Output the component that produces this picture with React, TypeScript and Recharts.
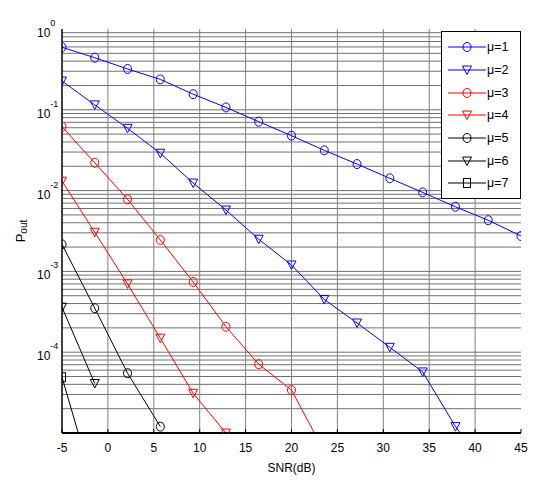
import React from "react";
import { LineChart, Line, XAxis, YAxis, ReferenceLine, Legend, Label } from "recharts";

const snr = [-5, -1.43, 2.14, 5.71, 9.29, 12.86, 16.43, 20, 23.57, 27.14, 30.71, 34.29, 37.86, 41.43, 45];

// outage probability per mu (null = no point)
const mu1 = [0.594, 0.441, 0.32, 0.238, 0.156, 0.107, 0.0713, 0.0478, 0.0315, 0.0213, 0.0142, 0.0095, 0.0063, 0.0043, 0.00274];
const mu2 = [0.227, 0.115, 0.059, 0.029, 0.0124, 0.00575, 0.0025, 0.0012, 4.5e-4, 2.3e-4, 1.15e-4, 5.7e-5, 1.2e-5, 3.5e-6, null];
const mu3 = [0.0618, 0.0221, 0.0078, 0.00245, 7.4e-4, 2.07e-4, 7.1e-5, 3.4e-5, 5.9e-6, null, null, null, null, null, null];
const mu4 = [0.0131, 0.00305, 7.0e-4, 1.49e-4, 3.1e-5, 1.0e-5, null, null, null, null, null, null, null, null, null];
const mu5 = [0.00216, 3.5e-4, 5.5e-5, 1.2e-5, null, null, null, null, null, null, null, null, null, null, null];
const mu6 = [3.6e-4, 4.1e-5, null, null, null, null, null, null, null, null, null, null, null, null, null];
const mu7 = [4.9e-5, 2e-6, null, null, null, null, null, null, null, null, null, null, null, null, null];

const xTicks = [-5, 0, 5, 10, 15, 20, 25, 30, 35, 40, 45];
const yTicks = [1, 0.1, 0.01, 0.001, 0.0001];
const Y_MIN = 1e-5;

const series = [
  { key: "mu1", name: "\u03bc=1", color: "#0000ff", shape: "o", values: mu1 },
  { key: "mu2", name: "\u03bc=2", color: "#0000ff", shape: "v", values: mu2 },
  { key: "mu3", name: "\u03bc=3", color: "#ff0000", shape: "o", values: mu3 },
  { key: "mu4", name: "\u03bc=4", color: "#ff0000", shape: "v", values: mu4 },
  { key: "mu5", name: "\u03bc=5", color: "#000000", shape: "o", values: mu5 },
  { key: "mu6", name: "\u03bc=6", color: "#000000", shape: "v", values: mu6 },
  { key: "mu7", name: "\u03bc=7", color: "#000000", shape: "s", values: mu7 },
];

const rows = snr.map((x, i) => {
  const r: Record<string, number | null> = { snr: x };
  series.forEach((s) => (r[s.key] = s.values[i]));
  return r;
});

// log grid: 2..9 x 10^k plus the inner decades
const yGrid: number[] = [];
for (let k = -5; k <= -1; k++) {
  for (let d = 1; d <= 9; d++) {
    if (d === 1 && k === -5) continue;
    yGrid.push(d * Math.pow(10, k));
  }
}
const xGrid = xTicks.slice(1, -1);

const FONT = "'Liberation Sans', Arial, sans-serif";

function marker(shape: string, cx: number, cy: number, color: string, key?: string) {
  if (shape === "o") {
    return <ellipse key={key} cx={cx} cy={cy} rx={4} ry={4.5} fill="none" stroke={color} strokeWidth={1} />;
  }
  if (shape === "v") {
    return (
      <polygon
        key={key}
        points={`${cx - 4.5},${cy - 4} ${cx + 4.5},${cy - 4} ${cx},${cy + 4.5}`}
        fill="none"
        stroke={color}
        strokeWidth={1}
      />
    );
  }
  return <rect key={key} x={cx - 3.5} y={cy - 4.5} width={7} height={9} fill="none" stroke={color} strokeWidth={1} />;
}

const makeDot = (shape: string, color: string) => (props: any) => {
  const { cx, cy, value, index } = props;
  if (value == null || value < Y_MIN * 0.99 || cx == null || cy == null) return <g key={`d-${index}`} />;
  return marker(shape, cx, cy, color, `d-${index}`);
};

const XTick = ({ x, y, payload }: any) => (
  <g>
    <line x1={x} x2={x} y1={y - 10} y2={y - 14} stroke="#000" strokeWidth={1} />
    <text x={x} y={y + 9} textAnchor="middle" fontSize={12} fill="#000" fontFamily={FONT}>
      {payload.value}
    </text>
  </g>
);

const YTick = ({ x, y, payload }: any) => {
  const e = Math.round(Math.log10(payload.value));
  return (
    <text x={x - 19} y={y} fontSize={12} fill="#000" fontFamily={FONT}>
      <tspan dy={8}>10</tspan>
      <tspan dy={-11} fontSize={9}>{e}</tspan>
    </text>
  );
};

const TitleLabel = ({ viewBox }: any) => (
  <text x={viewBox.x + viewBox.width / 2} y={viewBox.y - 13} textAnchor="middle" fontSize={12} fill="#000" fontFamily={FONT}>
    Outage Performance
  </text>
);

const XTitle = ({ viewBox }: any) => (
  <text x={viewBox.x + viewBox.width / 2} y={viewBox.y + 39} textAnchor="middle" fontSize={12} fill="#000" fontFamily={FONT}>
    SNR(dB)
  </text>
);

const YTitle = ({ viewBox }: any) => {
  const cx = viewBox.x + 25;
  const cy = viewBox.y + viewBox.height / 2;
  return (
    <text x={cx} y={cy} transform={`rotate(-90 ${cx} ${cy})`} textAnchor="middle" fontSize={13} fill="#000" fontFamily={FONT}>
      P<tspan dy={2} fontSize={10}>out</tspan>
    </text>
  );
};

const LegendBox = () => (
  <div
    style={{
      boxSizing: "border-box",
      width: 80,
      height: 168,
      border: "1px solid #000",
      background: "#fff",
      paddingTop: 4,
      fontFamily: FONT,
    }}
  >
    {series.map((s) => (
      <div key={s.key} style={{ display: "flex", alignItems: "center", height: 22.7 }}>
        <svg width={45} height={14} style={{ display: "block" }}>
          <line x1={6} x2={44} y1={7} y2={7} stroke={s.color} strokeWidth={1} />
          {marker(s.shape, 25, 7, s.color)}
        </svg>
        <span style={{ fontSize: 12.5, color: "#000", lineHeight: "14px" }}>{s.name}</span>
      </div>
    ))}
  </div>
);

export default function App() {
  return (
    <div style={{ position: "absolute", left: 0, top: 0, width: 534, height: 480, background: "#fff" }}>
      <LineChart width={534} height={480} data={rows} margin={{ top: 29, right: 13, bottom: 0, left: 0 }}>
        <XAxis
          xAxisId="b"
          dataKey="snr"
          type="number"
          domain={[-5, 45]}
          ticks={xTicks}
          allowDataOverflow
          height={47}
          tickSize={0}
          tickMargin={10}
          tickLine={false}
          axisLine={{ stroke: "#000", strokeWidth: 2 }}
          tick={<XTick />}
          label={<Label content={<XTitle />} />}
        />
        <XAxis
          xAxisId="t"
          dataKey="snr"
          type="number"
          orientation="top"
          mirror
          domain={[-5, 45]}
          ticks={xTicks}
          allowDataOverflow
          height={0}
          tick={false}
          tickSize={4}
          tickLine={{ stroke: "#000" }}
          axisLine={{ stroke: "#000", strokeWidth: 1.5 }}
          label={<Label content={<TitleLabel />} />}
        />
        <YAxis
          yAxisId="l"
          type="number"
          scale="log"
          domain={[Y_MIN, 1]}
          ticks={yTicks}
          allowDataOverflow
          width={62}
          tickSize={0}
          tickMargin={6}
          tickLine={false}
          axisLine={{ stroke: "#000", strokeWidth: 1.5 }}
          tick={<YTick />}
          label={<Label content={<YTitle />} />}
        />
        <YAxis
          yAxisId="r"
          type="number"
          scale="log"
          orientation="right"
          mirror
          domain={[Y_MIN, 1]}
          ticks={yGrid}
          allowDataOverflow
          width={0}
          tick={false}
          tickSize={3}
          tickLine={{ stroke: "#000" }}
          axisLine={{ stroke: "#000", strokeWidth: 2 }}
        />
        {yGrid.map((v) => (
          <ReferenceLine key={`gy-${v}`} xAxisId="b" yAxisId="l" y={v} stroke="#707070" strokeWidth={1} />
        ))}
        {xGrid.map((v) => (
          <ReferenceLine key={`gx-${v}`} xAxisId="b" yAxisId="l" x={v} stroke="#808080" strokeWidth={1} />
        ))}
        {series.map((s) => (
          <Line
            key={s.key}
            xAxisId="b"
            yAxisId="l"
            dataKey={s.key}
            name={s.name}
            type="linear"
            stroke={s.color}
            strokeWidth={1}
            dot={makeDot(s.shape, s.color)}
            activeDot={false}
            isAnimationActive={false}
          />
        ))}
        <Legend
          layout="vertical"
          align="center"
          verticalAlign="middle"
          wrapperStyle={{ left: 441, top: 31, width: 80, height: 168 }}
          content={<LegendBox />}
        />
      </LineChart>
    </div>
  );
}
